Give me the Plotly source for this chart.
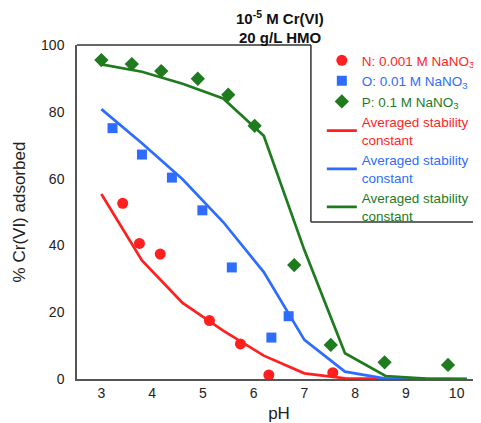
import plotly.graph_objects as go

# ---- data ----
ph_N = [3.42, 3.75, 4.16, 5.13, 5.74, 6.30, 7.56]
ads_N = [52.6, 40.6, 37.4, 17.5, 10.5, 1.2, 1.9]

ph_O = [3.22, 3.80, 4.39, 4.99, 5.57, 6.35, 6.69]
ads_O = [75.1, 67.2, 60.3, 50.5, 33.4, 12.4, 18.8]

ph_P = [3.00, 3.60, 4.18, 4.90, 5.50, 6.02, 6.80, 7.52, 8.58, 9.83]
ads_P = [95.5, 94.3, 92.2, 89.9, 85.1, 75.8, 34.1, 10.2, 5.0, 4.2]

ph_model = [3.0, 3.8, 4.6, 5.4, 6.2, 7.0, 7.8, 8.6, 9.4, 10.2]
model_N = [55.4, 35.5, 22.8, 14.5, 7.0, 1.7, 0.2, 0.0, 0.0, 0.0]
model_O = [80.8, 70.6, 59.8, 47.0, 32.0, 11.7, 2.2, 0.1, 0.0, 0.0]
model_P = [94.2, 92.0, 88.4, 84.0, 72.8, 38.6, 7.7, 0.9, 0.1, 0.0]

x_ticks = [3, 4, 5, 6, 7, 8, 9, 10]
y_ticks = [0, 20, 40, 60, 80, 100]

RED = "#ff1f1f"
BLUE = "#2e6cff"
GREEN = "#1e7b1e"
FONT = "Liberation Sans, Arial, sans-serif"

def colored(txt, c):
    return f'<span style="color:{c}">{txt}</span>'

fig = go.Figure()
fig.add_trace(go.Scatter(x=ph_N, y=ads_N, mode="markers", cliponaxis=False,
                         marker=dict(symbol="circle", size=11, color=RED),
                         name=colored("N: 0.001 M NaNO<sub>3</sub>", RED)))
fig.add_trace(go.Scatter(x=ph_O, y=ads_O, mode="markers", cliponaxis=False,
                         marker=dict(symbol="square", size=10, color=BLUE),
                         name=colored("O: 0.01 M NaNO<sub>3</sub>", BLUE)))
fig.add_trace(go.Scatter(x=ph_P, y=ads_P, mode="markers", cliponaxis=False,
                         marker=dict(symbol="diamond", size=11, color=GREEN),
                         name=colored("P: 0.1 M NaNO<sub>3</sub>", GREEN)))
fig.add_trace(go.Scatter(x=ph_model, y=model_N, mode="lines", cliponaxis=False,
                         line=dict(color=RED, width=2.7),
                         name=colored("Averaged stability<br>constant", RED)))
fig.add_trace(go.Scatter(x=ph_model, y=model_O, mode="lines", cliponaxis=False,
                         line=dict(color=BLUE, width=2.7),
                         name=colored("Averaged stability<br>constant", BLUE)))
fig.add_trace(go.Scatter(x=ph_model, y=model_P, mode="lines", cliponaxis=False,
                         line=dict(color=GREEN, width=2.7),
                         name=colored("Averaged stability<br>constant", GREEN)))

# page body has an 8px margin, so the figure is drawn 8px in from the corner
fig.update_layout(
    width=473, height=415,
    margin=dict(l=69, r=0, t=37, b=44),
    paper_bgcolor="white", plot_bgcolor="white",
    font=dict(family=FONT, size=14, color="#222"),
    showlegend=True,
    legend=dict(x=0.606, y=1, xanchor="left", yanchor="top",
                bgcolor="rgba(0,0,0,0)", borderwidth=0,
                font=dict(family=FONT, size=13.5),
                tracegroupgap=0, itemwidth=30),
    xaxis=dict(range=[2.52, 10.48], tickvals=x_ticks, showgrid=False,
               zeroline=False, showline=True, linecolor="#555", linewidth=1.5,
               ticks="", title=dict(text="pH", standoff=10)),
    yaxis=dict(range=[0, 100], tickvals=y_ticks, showgrid=False,
               zeroline=False, showline=True, linecolor="#555", linewidth=1.5,
               ticks="", ticklabelstandoff=8,
               title=dict(text="% Cr(VI) adsorbed", standoff=11)),
    annotations=[
        dict(text="<b>10<sup>-5</sup> M Cr(VI)</b>", xref="paper", yref="paper",
             x=0.503, y=1, yanchor="middle", yshift=28, showarrow=False,
             font=dict(family=FONT, size=15, color="#111")),
        dict(text="<b>20 g/L HMO</b>", xref="paper", yref="paper",
             x=0.503, y=1, yanchor="middle", yshift=8, showarrow=False,
             font=dict(family=FONT, size=15, color="#111")),
    ],
    shapes=[
        dict(type="line", xref="paper", yref="paper", x0=0, x1=0.579, y0=1, y1=1,
             line=dict(color="#333", width=1.5)),
        dict(type="line", xref="paper", yref="paper", x0=0.579, x1=0.579, y0=1, y1=0.47,
             line=dict(color="#333", width=1.5)),
        dict(type="line", xref="paper", yref="paper", x0=0.579, x1=1, y0=0.47, y1=0.47,
             line=dict(color="#333", width=1.5)),
    ],
)

fig.write_html("out.html")
